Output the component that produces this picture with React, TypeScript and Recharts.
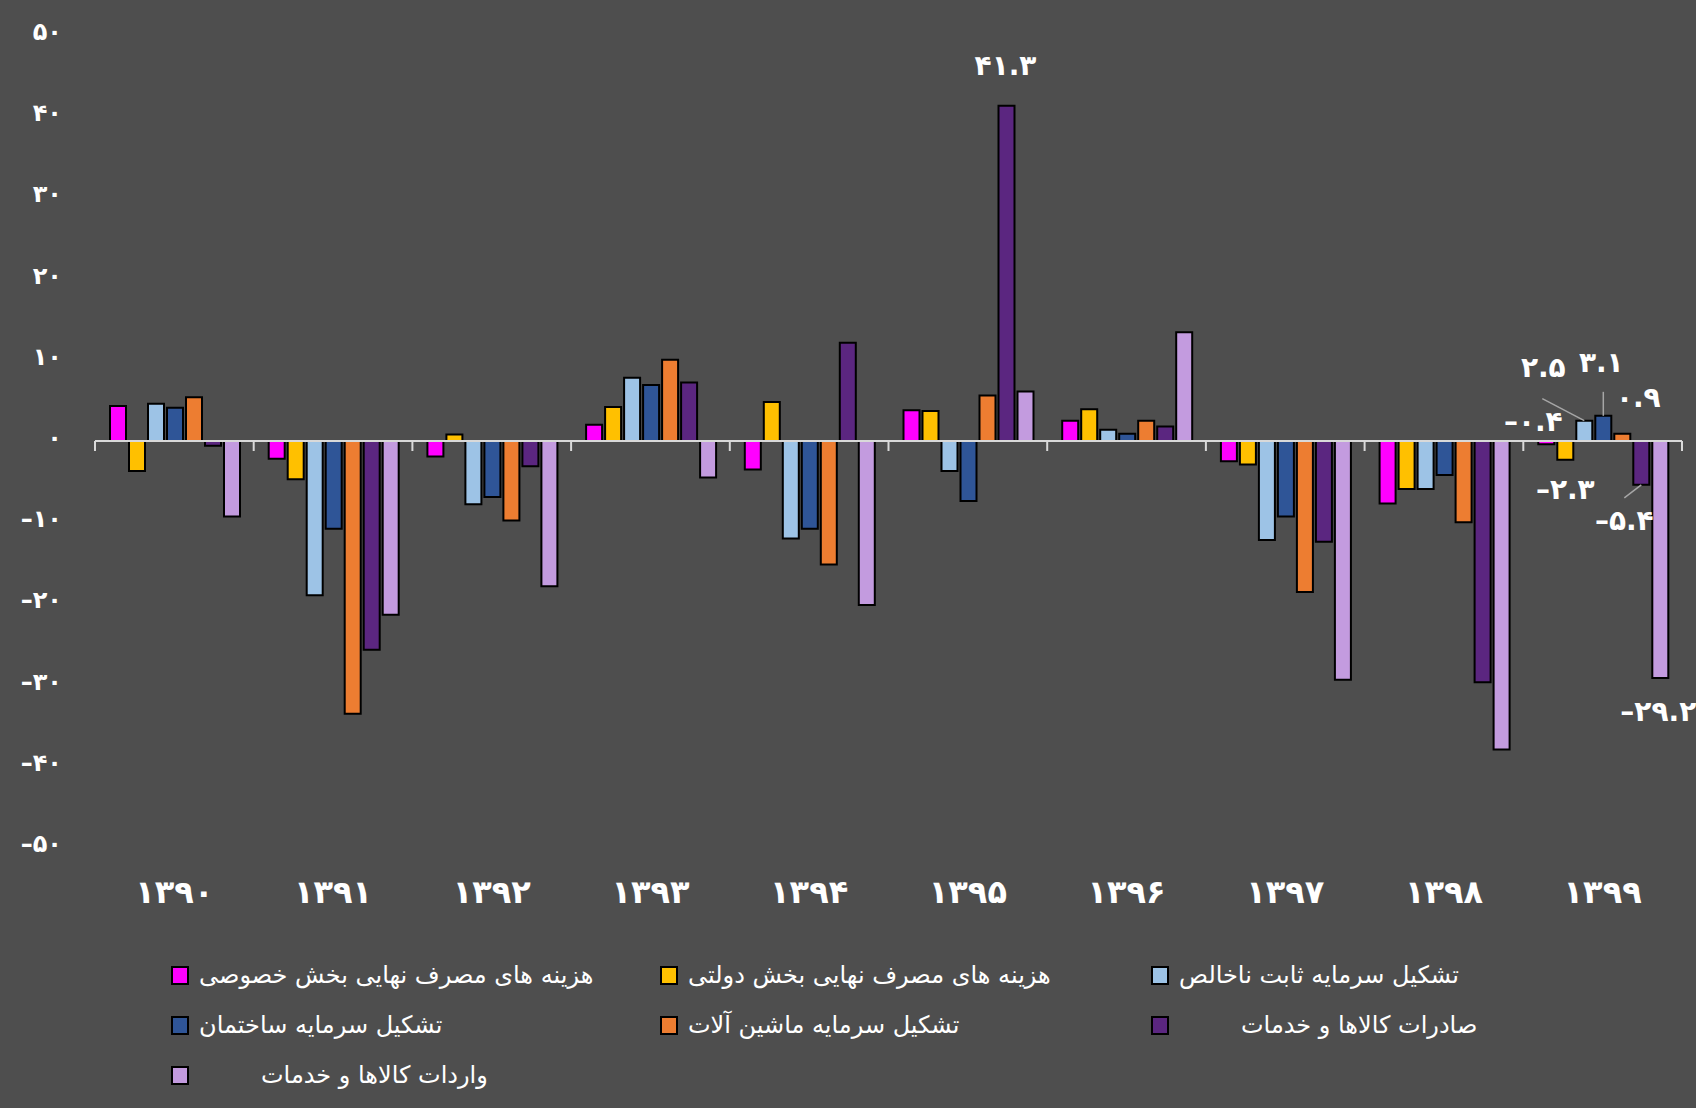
import React from "react";
import { BarChart, Bar, XAxis, YAxis, ReferenceLine, LabelList } from "recharts";

const years = ["1390", "1391", "1392", "1393", "1394", "1395", "1396", "1397", "1398", "1399"];

const privateConsumption = [4.3, -2.2, -1.9, 2.0, -3.5, 3.8, 2.5, -2.5, -7.7, -0.4];
const governmentConsumption = [-3.7, -4.7, 0.8, 4.2, 4.8, 3.7, 3.9, -2.9, -5.9, -2.3];
const netFixedCapital = [4.6, -19.0, -7.8, 7.8, -12.0, -3.7, 1.4, -12.2, -5.9, 2.5];
const constructionCapital = [4.1, -10.8, -6.9, 6.9, -10.8, -7.4, 0.9, -9.3, -4.2, 3.1];
const machineryCapital = [5.4, -33.6, -9.8, 10.0, -15.2, 5.6, 2.5, -18.6, -10.0, 0.9];
const exportsGoods = [-0.6, -25.7, -3.1, 7.2, 12.1, 41.3, 1.8, -12.4, -29.7, -5.4];
const importsGoods = [-9.3, -21.4, -17.9, -4.5, -20.2, 6.1, 13.4, -29.4, -38.0, -29.2];

const seriesKeys = ["private", "government", "netFixed", "construction", "machinery", "exports", "imports"];
const seriesNames = [
  "هزینه های مصرف نهایی بخش خصوصی",
  "هزینه های مصرف نهایی بخش دولتی",
  "تشکیل سرمایه ثابت ناخالص",
  "تشکیل سرمایه ساختمان",
  "تشکیل سرمایه ماشین آلات",
  "صادرات کالاها و خدمات",
  "واردات کالاها و خدمات",
];
const seriesValues = [
  privateConsumption,
  governmentConsumption,
  netFixedCapital,
  constructionCapital,
  machineryCapital,
  exportsGoods,
  importsGoods,
];
const seriesColors = ["#ff00ff", "#ffc000", "#9dc3e6", "#2f5597", "#ed7d31", "#5b2680", "#c39bdf"];

const yTicks = [-50, -40, -30, -20, -10, 0, 10, 20, 30, 40, 50];

const rows = years.map((year, i) => {
  const row: Record<string, string | number> = { year };
  seriesKeys.forEach((k, s) => (row[k] = seriesValues[s][i]));
  return row;
});

// which bars carry a value label, and where the label sits relative to the bar end
type LabelStyle = { dx: number; dy: number; lead?: [number, number, number, number] };
const labelStyles: Record<string, LabelStyle> = {
  "exports|1395": { dx: -1, dy: -40 },
  "private|1399": { dx: -13, dy: -23 },
  "government|1399": { dx: 0, dy: 30 },
  "netFixed|1399": { dx: -41, dy: -53, lead: [-42, -22, 0, 0] },
  "construction|1399": { dx: -2, dy: -53, lead: [0, -24, 0, 0] },
  "machinery|1399": { dx: 16, dy: -36 },
  "exports|1399": { dx: -17, dy: 36, lead: [0, 0, -17, 13] },
  "imports|1399": { dx: -2, dy: 33 },
};

const FONT = "'DejaVu Sans', sans-serif";
const BG = "#4e4e4e";

const toFa = (s: string) => s.replace(/\d/g, (d) => "۰۱۲۳۴۵۶۷۸۹"[+d]);
const fmtTick = (v: number) => (v < 0 ? "–" : "") + toFa(String(Math.abs(v)));
const fmtValue = (v: number) => (v < 0 ? "–" : "") + toFa(Math.abs(v).toFixed(1));

const makeLabel = (key: string) => (props: any) => {
  const year = years[props.index];
  const st = labelStyles[`${key}|${year}`];
  if (!st) return null;
  const vb = props.viewBox ?? props;
  const { x, y, width, height } = vb;
  const cx = x + width / 2;
  const top = Math.min(y, y + height);
  const bottom = Math.max(y, y + height);
  const v = Number(props.value);
  const ey = v >= 0 ? top : bottom;
  return (
    <g>
      {st.lead && (
        <line
          x1={cx + st.lead[0]}
          y1={ey + st.lead[1]}
          x2={cx + st.lead[2]}
          y2={ey + st.lead[3]}
          stroke="#a6a6a6"
          strokeWidth={1.5}
        />
      )}
      <text
        x={cx + st.dx}
        y={ey + st.dy}
        fill="#fff"
        fontSize={28}
        fontWeight="bold"
        fontFamily={FONT}
        textAnchor="middle"
        dominantBaseline="central"
      >
        {fmtValue(v)}
      </text>
    </g>
  );
};

const XTick = ({ x, y, payload }: any) => (
  <text
    x={x}
    y={y + 37}
    fill="#fff"
    fontSize={32}
    fontWeight="bold"
    fontFamily={FONT}
    textAnchor="middle"
    dominantBaseline="central"
  >
    {toFa(String(payload.value))}
  </text>
);

const YTick = ({ x, y, payload }: any) => (
  <text
    x={x - 25}
    y={y - 3}
    fill="#fff"
    fontSize={24}
    fontWeight="bold"
    fontFamily={FONT}
    textAnchor="end"
    dominantBaseline="central"
  >
    {fmtTick(payload.value)}
  </text>
);

// zero line with small tick marks at category boundaries
const ZeroAxis = (p: any) => {
  const { x1, x2, y1 } = p;
  const step = (x2 - x1) / years.length;
  return (
    <g>
      <line x1={x1} x2={x2} y1={y1} y2={y1} stroke="#d9d9d9" strokeWidth={2} />
      {Array.from({ length: years.length + 1 }, (_, i) => (
        <line
          key={i}
          x1={x1 + i * step}
          x2={x1 + i * step}
          y1={y1}
          y2={y1 + 10}
          stroke="#d9d9d9"
          strokeWidth={2}
        />
      ))}
    </g>
  );
};

const legendCols = [171, 660, 1151];
const legendRows = [975, 1025, 1075];
const legendGap = [10, 10, 10, 10, 10, 72, 72];

function Legendish() {
  return (
    <>
      {seriesNames.map((name, i) => {
        const col = i % 3;
        const row = Math.floor(i / 3);
        return (
          <div
            key={name}
            style={{
              position: "absolute",
              left: legendCols[col],
              top: legendRows[row] - 18,
              height: 36,
              display: "flex",
              alignItems: "center",
            }}
          >
            <div
              style={{
                width: 14,
                height: 15,
                background: seriesColors[i],
                border: "2px solid #000",
              }}
            />
            <span
              style={{
                marginLeft: legendGap[i],
                color: "#fff",
                fontSize: 24,
                fontFamily: FONT,
                direction: "rtl",
                whiteSpace: "nowrap",
              }}
            >
              {name}
            </span>
          </div>
        );
      })}
    </>
  );
}

export default function App() {
  return (
    <div
      style={{
        position: "absolute",
        left: 0,
        top: 0,
        width: 1696,
        height: 1108,
        background: BG,
        overflow: "hidden",
      }}
    >
      <BarChart
        width={1696}
        height={1108}
        data={rows}
        margin={{ top: 35, right: 14, bottom: 201, left: 0 }}
        barCategoryGap={15}
        barGap={3}
      >
        <XAxis
          dataKey="year"
          axisLine={false}
          tickLine={false}
          height={60}
          tick={<XTick />}
          interval={0}
        />
        <YAxis
          domain={[-50, 50]}
          ticks={yTicks}
          width={95}
          axisLine={false}
          tickLine={false}
          tick={<YTick />}
          interval={0}
        />
        {seriesKeys.map((k, s) => (
          <Bar
            key={k}
            dataKey={k}
            name={seriesNames[s]}
            fill={seriesColors[s]}
            stroke="#000"
            strokeWidth={2}
            isAnimationActive={false}
          >
            <LabelList dataKey={k} content={makeLabel(k)} />
          </Bar>
        ))}
        <ReferenceLine y={0} shape={ZeroAxis} ifOverflow="visible" />
      </BarChart>
      <Legendish />
    </div>
  );
}
